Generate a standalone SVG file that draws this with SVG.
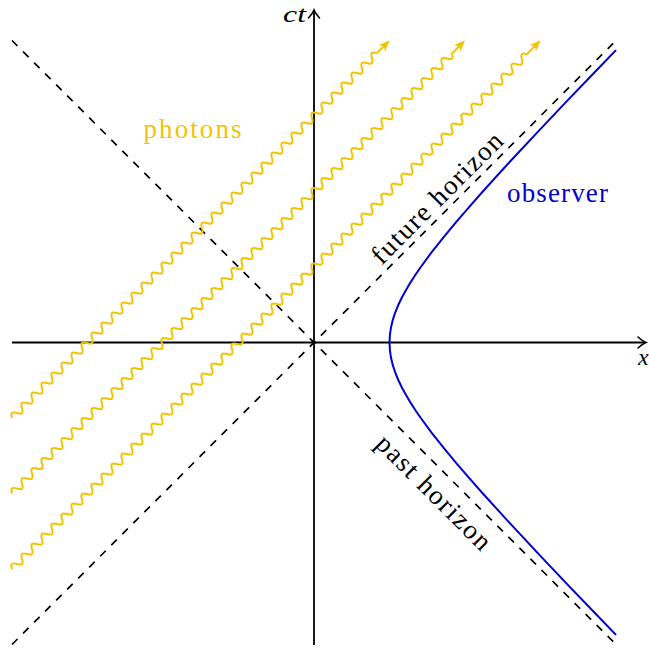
<svg xmlns="http://www.w3.org/2000/svg" width="649" height="650" viewBox="0 0 649 650">
<style>
.axis{fill:none;stroke:#000;stroke-width:1.8}
.hor{fill:none;stroke:#000;stroke-width:1.7;stroke-dasharray:7.8 7.8}
.obs{fill:none;stroke:#0000d0;stroke-width:2;stroke-linejoin:round}
.ph{fill:none;stroke:#f2c300;stroke-width:2;stroke-linejoin:round}
.lbl{font-family:"Liberation Serif","Times New Roman",serif;font-size:27px}
.math{font-family:"Liberation Serif","Times New Roman",serif;font-size:24px;font-style:italic}
</style>
<defs>
<marker id="ax" markerUnits="userSpaceOnUse" markerWidth="20" markerHeight="20" refX="0" refY="0" orient="auto" overflow="visible">
<path d="M-7 -5.5 Q-2.5 -1.3 1 0 Q-2.5 1.3 -7 5.5" fill="none" stroke="#000" stroke-width="1.6" stroke-linecap="round"/>
</marker>
<marker id="pa" markerUnits="userSpaceOnUse" markerWidth="20" markerHeight="20" refX="0" refY="0" orient="auto" overflow="visible">
<path d="M2 0 L-9 -4.5 L-6 0 L-9 4.5 Z" fill="#f2c300"/>
</marker>
<path id="wave" class="ph" d="M0 0 q3.535 -7 7.07 0 t7.07 0 t7.07 0 t7.07 0 t7.07 0 t7.07 0 t7.07 0 t7.07 0 t7.07 0 t7.07 0 t7.07 0 t7.07 0 t7.07 0 t7.07 0 t7.07 0 t7.07 0 t7.07 0 t7.07 0 t7.07 0 t7.07 0 t7.07 0 t7.07 0 t7.07 0 t7.07 0 t7.07 0 t7.07 0 t7.07 0 t7.07 0 t7.07 0 t7.07 0 t7.07 0 t7.07 0 t7.07 0 t7.07 0 t7.07 0 t7.07 0 t7.07 0 t7.07 0 t7.07 0 t7.07 0 t7.07 0 t7.07 0 t7.07 0 t7.07 0 t7.07 0 t7.07 0 t7.07 0 t7.07 0 t7.07 0 t7.07 0 t7.07 0 t7.07 0 t7.07 0 t7.07 0 t7.07 0 t7.07 0 t7.07 0 t7.07 0 t7.07 0 t7.07 0 t7.07 0 t7.07 0 t7.07 0 t7.07 0 t7.07 0 t7.07 0 t7.07 0 t7.07 0 t7.07 0 t7.07 0 t7.07 0 t7.07 0 t7.07 0 t7.07 0 t7.07 0 t7.07 0 t7.07 0 t7.07 0 t7.07 0 t7.07 0 t7.07 0 t7.07 0 t7.07 0 t7.07 0 t7.07 0 t7.07 0 t7.07 0 t7.07 0 t7.07 0 t7.07 0 t7.07 0 t7.07 0 t7.07 0 t7.07 0 t7.07 0 t7.07 0 t7.07 0 t7.07 0 t7.07 0 t7.07 0 t7.07 0 t7.07 0 t7.07 0 t7.07 0 t7.07 0 t7.07 0 t7.07 0 t7.07 0 t7.07 0 t7.07 0 t7.07 0 t7.07 0 t7.07 0 t7.07 0 t7.07 0 t7.07 0 t7.07 0 t7.07 0 t7.07 0 t7.07 0 t7.07 0 t7.07 0 t7.07 0 t7.07 0 t7.07 0 t7.07 0 t7.07 0 t7.07 0 t7.07 0 t7.07 0"/>
<clipPath id="c1" clipPathUnits="userSpaceOnUse"><rect x="-3" y="-8" width="519.11" height="16"/></clipPath>
<clipPath id="c2" clipPathUnits="userSpaceOnUse"><rect x="-3" y="-8" width="625.16" height="16"/></clipPath>
<clipPath id="c3" clipPathUnits="userSpaceOnUse"><rect x="-3" y="-8" width="731.21" height="16"/></clipPath>
</defs>

<g id="horizons">
<path class="hor" d="M12 40.5 L615 643.5"/>
<path class="hor" d="M12 644.5 L615 41.5"/>
</g>

<g id="axes">
<path class="axis" d="M12 342.5 H645" marker-end="url(#ax)"/>
<path class="axis" d="M314 645 V11" marker-end="url(#ax)"/>
</g>

<g id="observer">
<polyline class="obs" points="616,50.1 596.1,70.7 567.1,100.9 538.5,131.1 510.3,161.3 482.8,191.5 469.5,206.6 456.5,221.7 443.9,236.8 431.9,251.9 420.8,267 415.6,274.55 410.7,282.1 406.2,289.65 402,297.2 398.4,304.75 395.3,312.3 392.8,319.85 391,327.4 389.9,334.95 389.5,342.5 389.9,350.05 391,357.6 392.8,365.15 395.3,372.7 398.4,380.25 402,387.8 406.2,395.35 410.7,402.9 415.6,410.45 420.8,418 431.9,433.1 443.9,448.2 456.5,463.3 469.5,478.4 482.8,493.5 510.3,523.7 538.5,553.9 567.1,584.1 596.1,614.3 616,634.9"/>
</g>

<g id="photons">
<g id="photon1" transform="translate(12,418) rotate(-45)">
<g clip-path="url(#c1)"><use href="#wave"/></g>
<path class="ph" d="M516.11 0 H531.9" marker-end="url(#pa)"/>
</g>
<g id="photon2" transform="translate(12,493.5) rotate(-45)">
<g clip-path="url(#c2)"><use href="#wave"/></g>
<path class="ph" d="M622.16 0 H638.6" marker-end="url(#pa)"/>
</g>
<g id="photon3" transform="translate(12,569) rotate(-45)">
<g clip-path="url(#c3)"><use href="#wave"/></g>
<path class="ph" d="M728.21 0 H745.4" marker-end="url(#pa)"/>
</g>
</g>

<g id="labels">
<text class="math" x="283" y="22" textLength="23" lengthAdjust="spacingAndGlyphs">ct</text>
<text class="math" x="638" y="365">x</text>
<text class="lbl" x="143.5" y="138" fill="#f2c300" textLength="98">photons</text>
<text class="lbl" x="507" y="202" fill="#0000d0" textLength="101">observer</text>
<text class="lbl" x="0" y="0" text-anchor="middle" textLength="174" transform="translate(443.2,204.2) rotate(-45)">future horizon</text>
<text class="lbl" x="0" y="0" text-anchor="middle" textLength="151" transform="translate(427.7,498.6) rotate(45)">past horizon</text>
</g>
</svg>
